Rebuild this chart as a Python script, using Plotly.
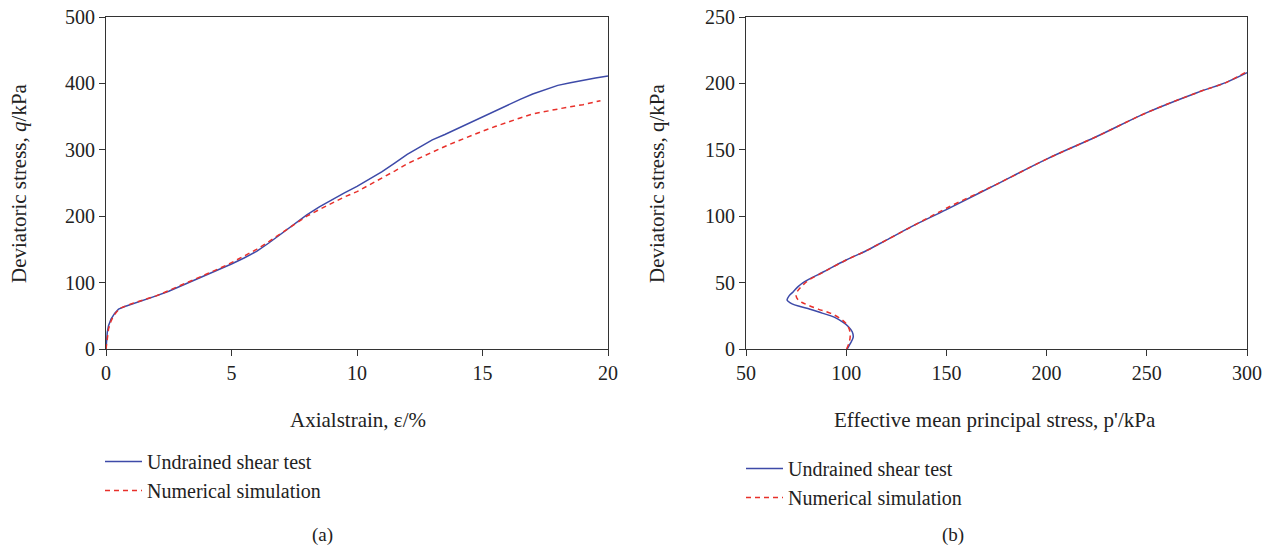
import plotly.graph_objects as go

# Panel (a): axial strain (%) vs deviatoric stress q (kPa)
strain_test = [0, 0.02, 0.05, 0.1, 0.2, 0.35, 0.5, 0.75, 1, 1.5, 2, 2.5, 3, 3.5, 4, 4.5, 5, 5.5, 6, 6.5, 7, 7.5, 8,
               8.5, 9, 9.5, 10, 10.5, 11, 11.5, 12, 12.5, 13, 13.5, 14, 14.5, 15, 15.5, 16, 16.5, 17, 17.5, 18,
               18.5, 19, 19.5, 20]
q_test = [0, 15, 25, 35, 45, 54, 60, 64, 67, 73, 80, 87, 95, 103, 112, 120, 128, 137, 147, 160, 174, 188, 202,
          214, 225, 235, 245, 256, 267, 280, 293, 304, 315, 323, 332, 341, 350, 359, 368, 376, 384, 391, 397,
          401, 405, 408, 411]

strain_sim = [0, 0.05, 0.1, 0.2, 0.3, 0.45, 0.6, 0.8, 1, 1.5, 2, 2.5, 3, 3.5, 4, 4.5, 5, 5.5, 6, 6.5, 7, 7.5, 8,
              8.5, 9, 9.5, 10, 10.5, 11, 11.5, 12, 12.5, 13, 13.5, 14, 14.5, 15, 15.5, 16, 16.5, 17, 17.5, 18,
              18.5, 19, 19.7]
q_sim = [0, 18, 30, 42, 50, 57, 62, 65, 68, 74, 80, 88, 96, 105, 113, 121, 130, 140, 150, 162, 175, 188, 200,
         210, 220, 229, 237, 247, 257, 268, 279, 288, 297, 305, 313, 321, 328, 335, 342, 348, 354, 358, 362,
         365, 368, 374]

# Panel (b): effective mean principal stress p' (kPa) vs q (kPa)
p_test = [100.5, 102, 103.5, 103, 101, 98.5, 94, 88, 82, 77, 73, 71, 70.5, 71.5, 73.5, 76, 78.5, 82, 86, 91,
          100, 110, 120, 135, 150, 175, 200, 225, 250, 275, 290, 300]
q_test_b = [0, 4, 9, 13, 17, 20, 24, 27, 30, 32, 34, 36, 37, 40, 43, 47, 50, 53, 56, 60,
            67, 74, 82, 94, 105, 124, 143, 160, 178, 193, 201, 208]

p_sim = [100.2, 101.5, 102, 101.5, 100, 97, 92, 86, 81, 78, 76, 75, 75.5, 77, 79, 81.5, 85, 90,
         100, 110, 120, 135, 150, 175, 200, 225, 250, 275, 290, 300]
q_sim_b = [0, 5, 10, 15, 19, 23, 27, 30, 33, 35, 37, 40, 43, 46, 49, 52, 55, 59,
           67, 74, 82, 94, 106, 124, 143, 160, 178, 193, 201, 209]

series_names = ["Undrained shear test", "Numerical simulation"]

BLUE = "#3d4aa8"
RED = "#e8302a"
FONT = "Liberation Serif"

W, H = 1273, 552
OFF = 0  # body margin removed via post_script


def px(x):
    return (x - OFF) / W


def py(y):
    return 1 - (y - OFF) / H


fig = go.Figure()
fig.add_trace(go.Scatter(x=strain_test, y=q_test, mode="lines", name=series_names[0],
                         line=dict(color=BLUE, width=1.5), xaxis="x", yaxis="y", legend="legend"))
fig.add_trace(go.Scatter(x=strain_sim, y=q_sim, mode="lines", name=series_names[1],
                         line=dict(color=RED, width=1.5, dash="5px,4px"), xaxis="x", yaxis="y", legend="legend"))
fig.add_trace(go.Scatter(x=p_test, y=q_test_b, mode="lines", name=series_names[0],
                         line=dict(color=BLUE, width=1.5, shape="spline"), xaxis="x2", yaxis="y2", legend="legend2"))
fig.add_trace(go.Scatter(x=p_sim, y=q_sim_b, mode="lines", name=series_names[1],
                         line=dict(color=RED, width=1.5, dash="5px,4px", shape="spline"), xaxis="x2", yaxis="y2",
                         legend="legend2"))

ydom = [py(349), py(17)]
axis_common = dict(showgrid=False, zeroline=False, showline=True, linecolor="#333", linewidth=1.2,
                   mirror=True, ticks="outside", ticklen=6, tickcolor="#333", automargin=False,
                   ticklabeloverflow="allow",
                   tickfont=dict(family=FONT, size=20, color="#222"))

ann_common = dict(xref="paper", yref="paper", showarrow=False, xanchor="center", yanchor="middle")

fig.update_layout(
    width=W, height=H, margin=dict(l=0, r=0, t=0, b=0, autoexpand=False),
    paper_bgcolor="white", plot_bgcolor="white",
    font=dict(family=FONT, size=19, color="#222"),
    xaxis=dict(domain=[px(106), px(608)], range=[0, 20], tickvals=[0, 5, 10, 15, 20], anchor="y", **axis_common),
    yaxis=dict(domain=ydom, range=[0, 500], tickvals=[0, 100, 200, 300, 400, 500], anchor="x", **axis_common),
    xaxis2=dict(domain=[px(746), px(1247)], range=[50, 300], tickvals=[50, 100, 150, 200, 250, 300], anchor="y2",
                **axis_common),
    yaxis2=dict(domain=ydom, range=[0, 250], tickvals=[0, 50, 100, 150, 200, 250], anchor="x2", **axis_common),
    legend=dict(x=px(100), y=py(442), xanchor="left", yanchor="top", bgcolor="rgba(0,0,0,0)",
                font=dict(family=FONT, size=20, color="#222"), tracegroupgap=0, itemwidth=37),
    legend2=dict(x=px(741), y=py(449), xanchor="left", yanchor="top", bgcolor="rgba(0,0,0,0)",
                 font=dict(family=FONT, size=20, color="#222"), tracegroupgap=0, itemwidth=37),
    annotations=[
        dict(text="Axialstrain, ε/%", x=px(358), y=py(420), font=dict(family=FONT, size=21), **ann_common),
        dict(text="Effective mean principal stress, p'/kPa", x=px(995), y=py(420),
             font=dict(family=FONT, size=21), **ann_common),
        dict(text="Deviatoric stress, <i>q</i>/kPa", x=px(19), y=py(183), textangle=-90,
             font=dict(family=FONT, size=21), **ann_common),
        dict(text="Deviatoric stress, q/kPa", x=px(657), y=py(183), textangle=-90,
             font=dict(family=FONT, size=21), **ann_common),
        dict(text="(a)", x=px(322), y=py(535), font=dict(family=FONT, size=19), **ann_common),
        dict(text="(b)", x=px(953), y=py(535), font=dict(family=FONT, size=19), **ann_common),
    ],
)

fig.write_html("out.html", config={"displayModeBar": False},
               post_script="document.body.style.margin='0px';")
